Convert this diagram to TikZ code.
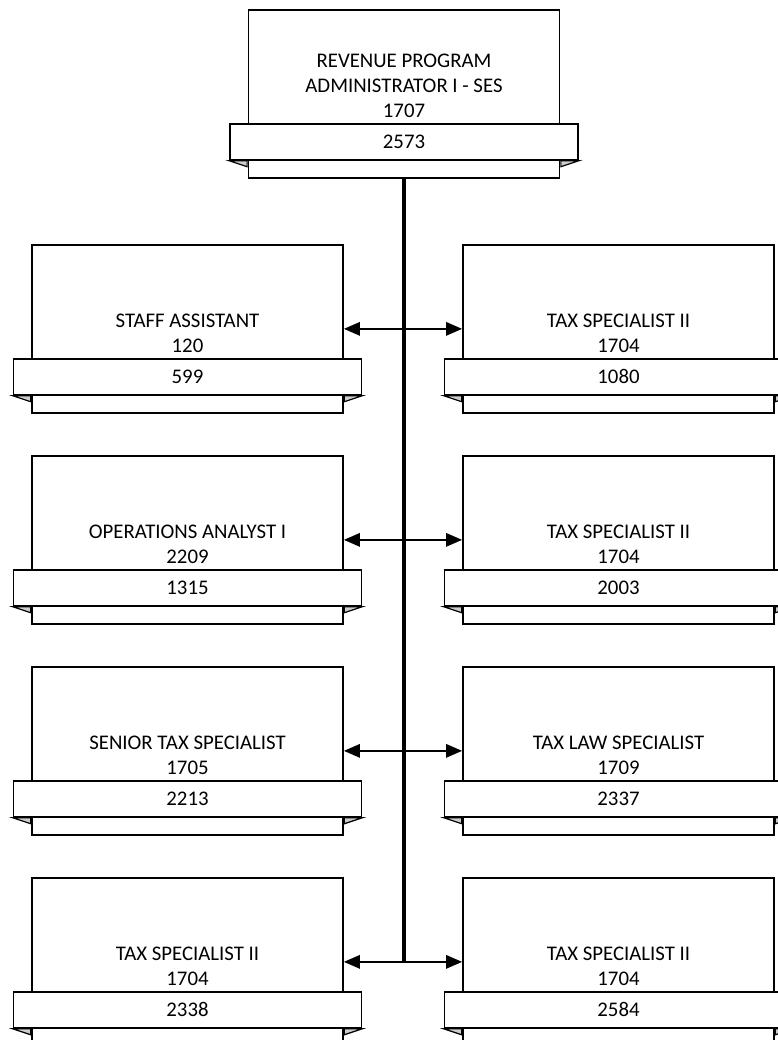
\documentclass[tikz,border=0pt]{standalone}
\usepackage{fontspec}
\setmainfont{Carlito}
\usetikzlibrary{arrows.meta,calc}

% one position: name, centre x, top y, title lines, number
\newcommand{\orgpos}[5]{%
  \node[posrect] (#1) at (#2,#3) {};
  \node[band] (#1-num) at ($(#2,#3)+(0,114)$) {#5};
  \filldraw[fold] (#1-num.south west) -- ++(18,0) -- ++(0,6) -- cycle;
  \filldraw[fold] (#1-num.south east) -- ++(-18,0) -- ++(0,6) -- cycle;
  \node[postext] (#1-txt) at ($(#1-num.north)+(0,-4)$) {#4};
}

\begin{document}
\begin{tikzpicture}[x=0.75pt,y=0.75pt,yscale=-1,xscale=1,
  font=\fontsize{15.6}{18.8}\selectfont,
  posrect/.style={draw, line width=1.3pt, fill=white, anchor=north,
    minimum width=233.25pt, minimum height=126pt, inner sep=0pt},
  band/.style={draw, line width=1.3pt, fill=white, anchor=north,
    minimum width=261pt, minimum height=27pt, inner sep=0pt},
  fold/.style={fill=gray!40, draw=black, line width=0.9pt},
  postext/.style={anchor=south, align=center, inner sep=0.75pt},
  trunk/.style={draw, line width=2.3pt},
  link/.style={draw, line width=1.5pt, {Triangle[length=12pt,width=10pt]}-{Triangle[length=12pt,width=10pt]}}]
\useasboundingbox (0,0) rectangle (778,1040);

% Top position
\orgpos{rpa}{404}{9}{REVENUE PROGRAM\\ADMINISTRATOR I - SES\\1707}{2573}

% Left column
\orgpos{sa}{187.5}{244}{STAFF ASSISTANT\\120}{599}
\orgpos{oa}{187.5}{455}{OPERATIONS ANALYST I\\2209}{1315}
\orgpos{sts}{187.5}{666}{SENIOR TAX SPECIALIST\\1705}{2213}
\orgpos{tsd}{187.5}{877}{TAX SPECIALIST II\\1704}{2338}

% Right column
\orgpos{tsa}{618.5}{244}{TAX SPECIALIST II\\1704}{1080}
\orgpos{tsb}{618.5}{455}{TAX SPECIALIST II\\1704}{2003}
\orgpos{tls}{618.5}{666}{TAX LAW SPECIALIST\\1709}{2337}
\orgpos{tsc}{618.5}{877}{TAX SPECIALIST II\\1704}{2584}

% Connection
\draw[link] (sa.east) -- (tsa.west);
\draw[link] (oa.east) -- (tsb.west);
\draw[link] (sts.east) -- (tls.west);
\draw[link] (tsd.east) -- (tsc.west);
%Straight Lines
\draw[trunk] (rpa.south) -- (rpa.south |- tsd.east);

\end{tikzpicture}
\end{document}
